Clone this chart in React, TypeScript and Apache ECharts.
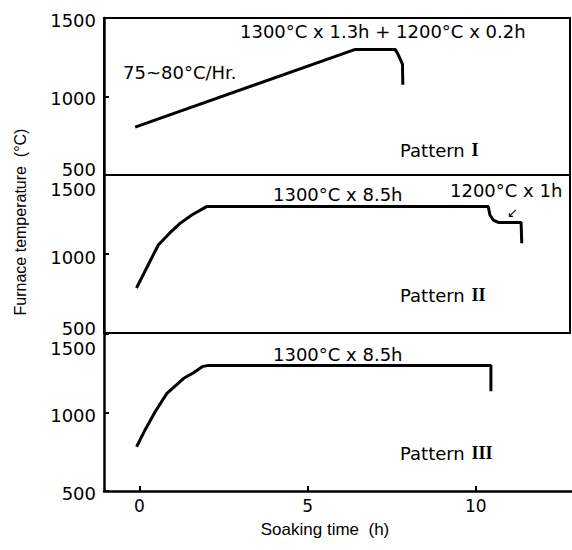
import React, { useEffect, useRef } from 'react';
import * as echarts from 'echarts';

// Tick values
const xTicks = [0, 5, 10];
const yTicks = [500, 1000, 1500];

// Pattern I
const p1Time = [-0.12, 6.45, 7.64, 7.72, 7.8, 7.86, 7.87];
const p1Temp = [805, 1300, 1300, 1272, 1235, 1205, 1075];

// Pattern II
const p2Time = [-0.08, 0.57, 0.9, 1.22, 1.57, 2.01, 10.42, 10.47, 10.57, 10.72, 11.4, 11.42];
const p2Temp = [785, 1057, 1130, 1194, 1247, 1300, 1300, 1247, 1215, 1200, 1200, 1068];

// Pattern III
const p3Time = [-0.08, 0.17, 0.47, 0.82, 1.32, 1.6, 1.87, 2.05, 10.45, 10.45];
const p3Temp = [782, 889, 1005, 1122, 1218, 1252, 1292, 1300, 1300, 1135];

const X_MIN = -1.05;
const X_MAX = 12.86;

const FONT = '"DejaVu Sans", sans-serif';

function pairs(t: number[], v: number[]) {
  return t.map((x, i) => [x, v[i]]);
}

// shifts (px) of tick labels [500, 1000, 1500] per panel (positive = down)
const labelShift = [
  [-6, 2, 2],
  [-5, 3, 14],
  [2, 3, 14],
];

function yAxisFor(i: number) {
  const sh = labelShift[i];
  const rich: any = {};
  yTicks.forEach((v, k) => {
    const d = sh[k];
    rich['v' + v] = {
      fontSize: 18,
      fontFamily: FONT,
      color: '#000',
      padding: d >= 0 ? [2 * d, 0, 0, 0] : [0, 0, -2 * d, 0],
    };
  });
  return {
    type: 'value',
    gridIndex: i,
    min: 500,
    max: 1500,
    interval: 500,
    axisLine: { show: true, onZero: false, lineStyle: { color: '#000', width: 2.5 } },
    axisTick: { show: true, inside: true, length: 5, lineStyle: { color: '#000', width: 2 } },
    splitLine: { show: false },
    axisLabel: {
      show: true,
      margin: 8,
      showMinLabel: true,
      showMaxLabel: true,
      formatter: (v: number) => `{v${v}|${v}}`,
      rich,
    },
  };
}

export default function App() {
  const ref = useRef<HTMLDivElement>(null);
  useEffect(() => {
    if (!ref.current) return;
    const chart = echarts.init(ref.current, undefined, { renderer: 'svg' });
    const lineStyle = { color: '#000', width: 3 };
    const text = (x: number, y: number, t: string, extra: any = {}) => ({
      type: 'text',
      x,
      y,
      style: {
        text: t,
        font: `18px ${FONT}`,
        fill: '#000',
        align: 'left',
        verticalAlign: 'middle',
        ...extra,
      },
    });
    const patternText = (x: number, y: number, num: string) => ({
      type: 'text',
      x,
      y,
      style: {
        text: `{p|Pattern}  {r|${num}}`,
        fill: '#000',
        align: 'left',
        verticalAlign: 'middle',
        rich: {
          p: { fontSize: 18, fontFamily: FONT, fill: '#000' },
          r: { fontSize: 18, fontFamily: '"Liberation Serif", serif', fontWeight: 'bold', fill: '#000' },
        },
      },
    });
    chart.setOption({
      animation: false,
      backgroundColor: '#fff',
      grid: [
        { left: 104, top: 18, width: 466, height: 157, show: true, borderColor: '#000', borderWidth: 2 },
        { left: 104, top: 175, width: 466, height: 158, show: true, borderColor: '#000', borderWidth: 2 },
        { left: 104, top: 334, width: 468, height: 157, show: false },
      ],
      xAxis: [
        { type: 'value', gridIndex: 0, min: X_MIN, max: X_MAX, show: false },
        { type: 'value', gridIndex: 1, min: X_MIN, max: X_MAX, show: false },
        {
          type: 'value',
          gridIndex: 2,
          min: X_MIN,
          max: X_MAX,
          axisLine: { show: true, onZero: false, lineStyle: { color: '#000', width: 2.5 } },
          axisTick: {
            show: true,
            inside: true,
            length: 5,
            customValues: xTicks,
            lineStyle: { color: '#000', width: 2 },
          },
          axisLabel: {
            show: true,
            customValues: xTicks,
            fontSize: 17,
            fontFamily: FONT,
            color: '#000',
            margin: 6,
          },
          splitLine: { show: false },
        },
      ],
      yAxis: [yAxisFor(0), yAxisFor(1), yAxisFor(2)],
      series: [
        {
          type: 'line',
          xAxisIndex: 0,
          yAxisIndex: 0,
          data: pairs(p1Time, p1Temp),
          symbol: 'none',
          lineStyle,
        },
        {
          type: 'line',
          xAxisIndex: 1,
          yAxisIndex: 1,
          data: pairs(p2Time, p2Temp),
          symbol: 'none',
          lineStyle,
        },
        {
          type: 'line',
          xAxisIndex: 2,
          yAxisIndex: 2,
          data: pairs(p3Time, p3Temp),
          symbol: 'none',
          lineStyle,
        },
      ],
      graphic: [
        {
          type: 'text',
          x: 20,
          y: 222,
          rotation: Math.PI / 2,
          style: {
            text: 'Furnace temperature  (°C)',
            font: '16px "Liberation Sans", sans-serif',
            fill: '#000',
            align: 'center',
            verticalAlign: 'middle',
          },
        },
        {
          type: 'text',
          x: 325,
          y: 529,
          style: {
            text: 'Soaking time  (h)',
            font: '17px "Liberation Sans", sans-serif',
            fill: '#000',
            align: 'center',
            verticalAlign: 'middle',
          },
        },
        text(123, 72, '75~80°C/Hr.'),
        text(240, 31, '1300°C x 1.3h + 1200°C x 0.2h'),
        patternText(400, 150, 'I'),
        text(273, 194, '1300°C x 8.5h'),
        text(450, 190, '1200°C x 1h'),
        text(507, 212, '↙', { font: `13px ${FONT}` }),
        patternText(400, 295, 'II'),
        text(273, 354, '1300°C x 8.5h'),
        patternText(400, 453, 'III'),
      ],
    });
    return () => chart.dispose();
  }, []);
  return <div ref={ref} style={{ position: 'fixed', left: 0, top: 0, width: 572, height: 550 }} />;
}
